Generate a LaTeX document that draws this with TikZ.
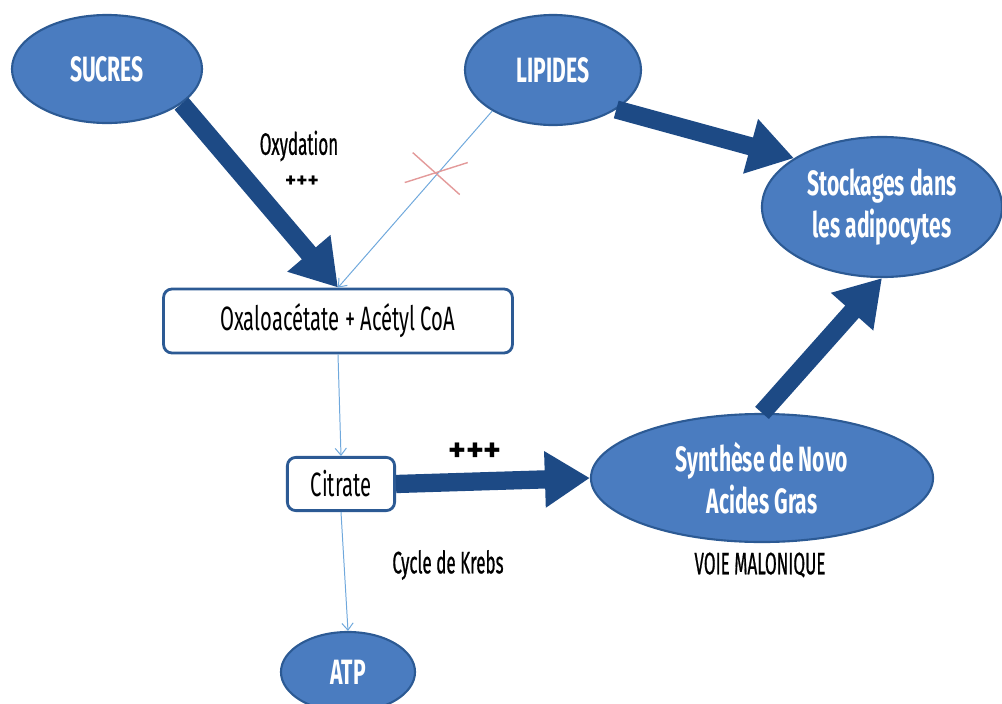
\documentclass[tikz,border=0pt]{standalone}
\usepackage{fontspec}
\usetikzlibrary{shapes.geometric,arrows.meta}
\newfontfamily\condfont{Fira Sans}[FakeStretch=0.6]
\newfontfamily\notefont{Fira Sans}[FakeStretch=0.55,FakeBold=0.6]
\newfontfamily\plusfont{Fira Sans}
\definecolor{ellfill}{HTML}{4A7CC0}
\definecolor{ellborder}{HTML}{2C5A94}
\definecolor{navy}{HTML}{1D4A85}
\definecolor{thinblue}{HTML}{6FA8DC}
\definecolor{crossred}{HTML}{E39A9A}

\begin{document}
\begin{tikzpicture}[x=0.025cm,y=-0.025cm,
    blob/.style={ellipse,draw=ellborder,fill=ellfill,line width=1.5pt,text=white,
      font=\condfont\bfseries\fontsize{25}{30}\selectfont,align=center,inner sep=0pt},
    box/.style={rectangle,rounded corners=6pt,draw=ellborder,line width=2pt,fill=white,
      font=\condfont\fontsize{24}{28}\selectfont,inner sep=0pt},
    note/.style={font=\notefont\fontsize{22}{26}\selectfont},
    thinarrow/.style={draw=thinblue,line width=0.7pt,-{Straight Barb[length=5pt,width=8pt]}},
    bigarrow/.style={draw=navy,line width=13pt,-{Triangle[length=32pt,width=38pt]}},
    redcross/.style={draw=crossred,line width=1pt}]
\useasboundingbox (0,0) rectangle (1002,704);

% nodes
\node[blob,minimum width=4.75cm,minimum height=2.7cm] (sucres) at (107,69) {SUCRES};
\node[blob,minimum width=4.4cm,minimum height=2.75cm] (lipides) at (553,70) {LIPIDES};
\node[blob,minimum width=6cm,minimum height=3.5cm] (stock) at (882,207) {Stockages dans\\les adipocytes};
\node[box,minimum width=8.72cm,minimum height=1.6cm] (oxalo) at (338,321) {Oxaloacétate + Acétyl CoA};
\node[box,minimum width=2.68cm,minimum height=1.33cm] (citrate) at (341,484) {Citrate};
\node[blob,minimum width=8.55cm,minimum height=3.2cm] (synth) at (762,478) {Synthèse de Novo\\Acides Gras};
\node[blob,minimum width=3.35cm,minimum height=2cm] (atp) at (348,672) {ATP};

% labels
\node[note] (oxyd) at (299,146) {Oxydation};
\node[font=\plusfont\bfseries\fontsize{15}{15}\selectfont] (oxydplus) at (302,182) {+++};
\node[font=\plusfont\bfseries\fontsize{24}{24}\selectfont] (plus) at (475,452) {+++};
\node[note] (krebs) at (448,565) {Cycle de Krebs};
\node[note] (voie) at (760,565) {VOIE MALONIQUE};

% thin connectors
\draw[thinarrow] (lipides.214) -- (oxalo.north) coordinate[pos=0.36] (cut);
\draw[thinarrow] (oxalo.south) -- (citrate.north);
\draw[thinarrow] (citrate.south) -- (atp.north);
\draw[redcross] ([shift={(-32,8)}]cut) -- ([shift={(31,-12)}]cut);
\draw[redcross] ([shift={(-24,-22)}]cut) -- ([shift={(23,20)}]cut);

% thick connectors
\begin{scope}
  \draw[bigarrow] (sucres.-25) -- (oxalo.north);
  \draw[bigarrow] (lipides.-32) -- (stock.151);
  \draw[bigarrow] (citrate.east) -- (synth.west);
  \draw[bigarrow] (synth.north) -- (stock.south);
\end{scope}
\end{tikzpicture}
\end{document}
